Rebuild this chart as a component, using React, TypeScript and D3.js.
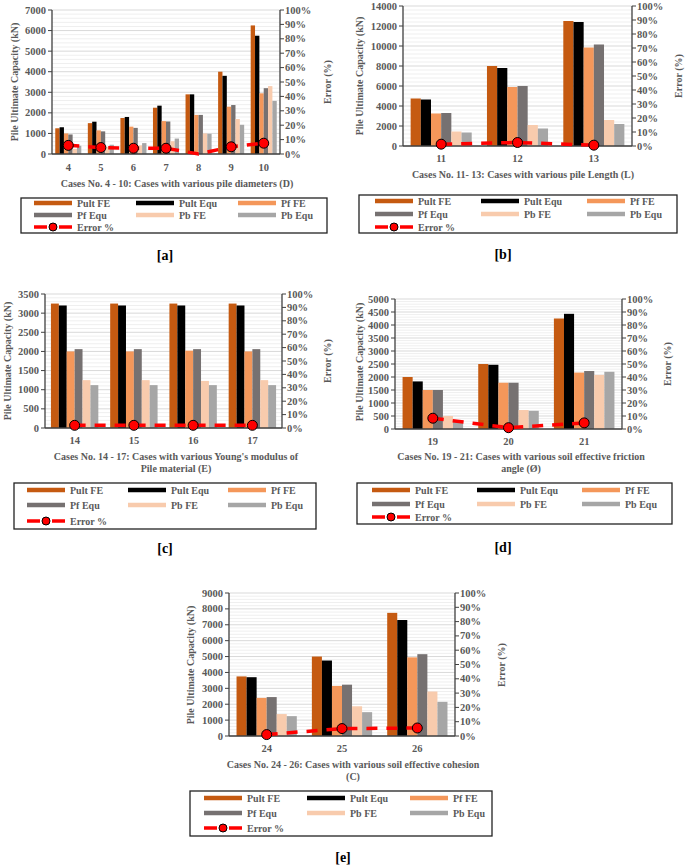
import React from 'react';
import * as d3 from 'd3';

const seriesNames = ['Pult FE', 'Pult Equ', 'Pf FE', 'Pf Equ', 'Pb FE', 'Pb Equ'];
const seriesColors = ['#c55a11', '#000000', '#f4975a', '#767171', '#f8cbad', '#a6a6a6'];
const errorName = 'Error %';

// [a] pile diameters
const catsA = ['4', '5', '6', '7', '8', '9', '10'];
const pultFeA = [1250, 1500, 1750, 2250, 2900, 4000, 6250];
const pultEquA = [1300, 1570, 1800, 2350, 2900, 3800, 5750];
const pfFeA = [1000, 1150, 1330, 1600, 1900, 2300, 2950];
const pfEquA = [950, 1100, 1270, 1580, 1900, 2380, 3200];
const pbFeA = [250, 350, 420, 620, 1000, 1700, 3300];
const pbEquA = [400, 450, 530, 750, 980, 1420, 2580];
const errA = [6, 4.5, 4, 4, 0, 5, 7.5];

// [b] pile length
const catsB = ['11', '12', '13'];
const pultFeB = [4750, 8000, 12500];
const pultEquB = [4650, 7800, 12400];
const pfFeB = [3250, 5900, 9850];
const pfEquB = [3300, 6000, 10150];
const pbFeB = [1450, 2100, 2600];
const pbEquB = [1350, 1750, 2200];
const errB = [1.3, 2.5, 0.6];

// [c] Young's modulus
const catsC = ['14', '15', '16', '17'];
const pultFeC = [3250, 3250, 3250, 3250];
const pultEquC = [3200, 3200, 3200, 3200];
const pfFeC = [2000, 2000, 2020, 2000];
const pfEquC = [2060, 2060, 2060, 2060];
const pbFeC = [1250, 1250, 1230, 1250];
const pbEquC = [1120, 1120, 1120, 1120];
const errC = [2, 2, 2, 2];

// [d] friction angle
const catsD = ['19', '20', '21'];
const pultFeD = [2000, 2500, 4250];
const pultEquD = [1830, 2470, 4430];
const pfFeD = [1500, 1780, 2170];
const pfEquD = [1500, 1780, 2230];
const pbFeD = [500, 730, 2080];
const pbEquD = [330, 700, 2200];
const errD = [8.3, 1, 4.7];

// [e] cohesion
const catsE = ['24', '25', '26'];
const pultFeE = [3750, 5000, 7750];
const pultEquE = [3700, 4750, 7300];
const pfFeE = [2400, 3150, 4950];
const pfEquE = [2450, 3230, 5150];
const pbFeE = [1380, 1870, 2800];
const pbEquE = [1250, 1500, 2150];
const errE = [1, 5.2, 5.6];

const FONT = "'Liberation Serif', 'DejaVu Serif', serif";
const GRAY = '#595959';

type PanelProps = {
  cats: string[];
  series: number[][];
  err: number[];
  yMax: number;
  yStep: number;
  l: number; r: number; t: number; b: number;
  catY: number;
  titleX: number;
  titles: { text: string; y: number }[];
  yTitle: { x: number; y: number };
  rTitle: { x: number; y: number };
  legend: { x: number; y: number; w: number; h: number; cols: number[]; rows: number[] };
  label: { text: string; x: number; y: number };
};

function Panel(p: PanelProps) {
  const x = d3.scaleBand<string>().domain(p.cats).range([p.l, p.r]).paddingInner(0.2).paddingOuter(0.1);
  const xc = d3.scaleBand<string>().domain(p.cats).range([p.l, p.r]);
  const sub = d3.scaleBand<number>().domain(d3.range(p.series.length)).range([0, x.bandwidth()]);
  const y = d3.scaleLinear().domain([0, p.yMax]).range([p.b, p.t]);
  const y2 = d3.scaleLinear().domain([0, 100]).range([p.b, p.t]);
  const majors = d3.range(0, p.yMax + 1e-9, p.yStep);
  const minors = d3.range(0, p.yMax + 1e-9, p.yStep / 5).filter((v) => !majors.some((m) => Math.abs(m - v) < 1e-6));
  const pct = d3.range(0, 101, 10);
  const line = d3.line<number>()
    .x((_, i) => (xc(p.cats[i]) as number) + xc.bandwidth() / 2)
    .y((v) => y2(v));
  const legendItems = [...seriesNames.map((n, i) => ({ n, c: seriesColors[i], err: false })), { n: errorName, c: 'red', err: true }];
  return (
    <g style={{ fontFamily: FONT, fontWeight: 'bold' }}>
      {minors.map((v) => (
        <line key={'mi' + v} x1={p.l} x2={p.r} y1={y(v)} y2={y(v)} stroke="#efefef" strokeWidth={1} />
      ))}
      {majors.map((v) => (
        <line key={'ma' + v} x1={p.l} x2={p.r} y1={y(v)} y2={y(v)} stroke="#d9d9d9" strokeWidth={1} />
      ))}
      {p.series.map((s, si) =>
        s.map((v, ci) => (
          <rect
            key={si + '-' + ci}
            x={(x(p.cats[ci]) as number) + (sub(si) as number)}
            y={y(v)}
            width={sub.bandwidth()}
            height={p.b - y(v)}
            fill={seriesColors[si]}
          />
        ))
      )}
      <line x1={p.l} x2={p.l} y1={p.t} y2={p.b} stroke="#404040" strokeWidth={1.3} />
      <line x1={p.r} x2={p.r} y1={p.t} y2={p.b} stroke="#404040" strokeWidth={1.3} />
      <line x1={p.l} x2={p.r} y1={p.b} y2={p.b} stroke="#404040" strokeWidth={1.3} />
      {majors.map((v) => (
        <g key={'lt' + v}>
          <line x1={p.l - 4} x2={p.l} y1={y(v)} y2={y(v)} stroke="#404040" />
          <text x={p.l - 6} y={y(v)} textAnchor="end" dominantBaseline="central" fontSize={10.5} fill={GRAY}>{v}</text>
        </g>
      ))}
      {pct.map((v) => (
        <g key={'rt' + v}>
          <line x1={p.r} x2={p.r + 4} y1={y2(v)} y2={y2(v)} stroke="#404040" />
          <text x={p.r + 5} y={y2(v)} textAnchor="start" dominantBaseline="central" fontSize={10.5} fill={GRAY}>{v + '%'}</text>
        </g>
      ))}
      {p.cats.map((c) => (
        <text key={'c' + c} x={(xc(c) as number) + xc.bandwidth() / 2} y={p.catY} textAnchor="middle" dominantBaseline="central" fontSize={10.5} fill={GRAY}>{c}</text>
      ))}
      {p.titles.map((tt, i) => (
        <text key={'t' + i} x={p.titleX} y={tt.y} textAnchor="middle" dominantBaseline="central" fontSize={10} fill={GRAY}>{tt.text}</text>
      ))}
      <text transform={`translate(${p.yTitle.x},${p.yTitle.y}) rotate(-90)`} textAnchor="middle" dominantBaseline="central" fontSize={10} fill={GRAY}>Pile Ultimate Capacity (kN)</text>
      <text transform={`translate(${p.rTitle.x},${p.rTitle.y}) rotate(-90)`} textAnchor="middle" dominantBaseline="central" fontSize={10} fill={GRAY}>Error (%)</text>
      <path d={line(p.err) || ''} fill="none" stroke="#ff0000" strokeWidth={3.5} strokeDasharray="11 9" />
      {p.err.map((v, i) =>
        v > 0 ? (
          <circle key={'e' + i} cx={(xc(p.cats[i]) as number) + xc.bandwidth() / 2} cy={y2(v)} r={5} fill="#ff0000" stroke="#000" strokeWidth={1} />
        ) : null
      )}
      <rect x={p.legend.x} y={p.legend.y} width={p.legend.w} height={p.legend.h} fill="#fff" stroke="#222" strokeWidth={1.3} />
      {legendItems.map((it, i) => {
        const cx = p.legend.x + p.legend.cols[i % 3];
        const cy = p.legend.y + p.legend.rows[Math.floor(i / 3)];
        return (
          <g key={'lg' + i}>
            {it.err ? (
              <g>
                <line x1={cx} x2={cx + 38} y1={cy} y2={cy} stroke="#ff0000" strokeWidth={3.5} strokeDasharray="13 12 13" />
                <circle cx={cx + 19} cy={cy} r={4} fill="#ff0000" stroke="#000" strokeWidth={1} />
              </g>
            ) : (
              <line x1={cx} x2={cx + 38} y1={cy} y2={cy} stroke={it.c} strokeWidth={4.5} />
            )}
            <text x={cx + 43} y={cy} dominantBaseline="central" fontSize={10} fill={GRAY}>{it.n}</text>
          </g>
        );
      })}
      <text x={p.label.x} y={p.label.y} textAnchor="middle" dominantBaseline="central" fontSize={14} fill="#000">{p.label.text}</text>
    </g>
  );
}

export default function App() {
  return (
    <svg width={685} height={867} style={{ position: 'absolute', left: 0, top: 0, background: '#fff' }}>
      <Panel
        cats={catsA}
        series={[pultFeA, pultEquA, pfFeA, pfEquA, pbFeA, pbEquA]}
        err={errA}
        yMax={7000} yStep={1000}
        l={52} r={280} t={10} b={154}
        catY={167} titleX={177}
        titles={[{ text: 'Cases No. 4 - 10: Cases with various pile diameters (D)', y: 183 }]}
        yTitle={{ x: 14, y: 82 }} rTitle={{ x: 327, y: 82 }}
        legend={{ x: 21, y: 198, w: 306, h: 35, cols: [13, 115, 217], rows: [5, 17, 29] }}
        label={{ text: '[a]', x: 165, y: 255 }}
      />
      <Panel
        cats={catsB}
        series={[pultFeB, pultEquB, pfFeB, pfEquB, pbFeB, pbEquB]}
        err={errB}
        yMax={14000} yStep={2000}
        l={403} r={632} t={6} b={146}
        catY={158} titleX={523}
        titles={[{ text: 'Cases No. 11- 13: Cases with various pile Length (L)', y: 174 }]}
        yTitle={{ x: 359, y: 76 }} rTitle={{ x: 678, y: 76 }}
        legend={{ x: 359, y: 195, w: 318, h: 38, cols: [16, 122, 228], rows: [6, 19, 32] }}
        label={{ text: '[b]', x: 503, y: 254 }}
      />
      <Panel
        cats={catsC}
        series={[pultFeC, pultEquC, pfFeC, pfEquC, pbFeC, pbEquC]}
        err={errC}
        yMax={3500} yStep={500}
        l={45} r={282} t={294} b={428}
        catY={440} titleX={176}
        titles={[
          { text: "Cases No. 14 - 17: Cases with various Young's modulus of", y: 456 },
          { text: 'Pile material (E)', y: 468 },
        ]}
        yTitle={{ x: 7, y: 361 }} rTitle={{ x: 327, y: 361 }}
        legend={{ x: 14, y: 483, w: 302, h: 46, cols: [13, 114, 214], rows: [7, 22, 38] }}
        label={{ text: '[c]', x: 165, y: 548 }}
      />
      <Panel
        cats={catsD}
        series={[pultFeD, pultEquD, pfFeD, pfEquD, pbFeD, pbEquD]}
        err={errD}
        yMax={5000} yStep={500}
        l={395} r={622} t={299} b={429}
        catY={441} titleX={521}
        titles={[
          { text: 'Cases No. 19 - 21: Cases with various soil effective friction', y: 456 },
          { text: 'angle (Ø)', y: 468 },
        ]}
        yTitle={{ x: 359, y: 362 }} rTitle={{ x: 667, y: 364 }}
        legend={{ x: 357, y: 483, w: 315, h: 41, cols: [15, 120, 225], rows: [7, 21, 34] }}
        label={{ text: '[d]', x: 503, y: 547 }}
      />
      <Panel
        cats={catsE}
        series={[pultFeE, pultEquE, pfFeE, pfEquE, pbFeE, pbEquE]}
        err={errE}
        yMax={9000} yStep={1000}
        l={229} r={455} t={593} b={736}
        catY={748} titleX={353}
        titles={[
          { text: 'Cases No. 24 - 26: Cases with various soil effective cohesion', y: 764 },
          { text: '(C)', y: 776 },
        ]}
        yTitle={{ x: 190, y: 665 }} rTitle={{ x: 501, y: 665 }}
        legend={{ x: 190, y: 791, w: 302, h: 45, cols: [14, 117, 220], rows: [7, 22, 37] }}
        label={{ text: '[e]', x: 343, y: 857 }}
      />
    </svg>
  );
}
